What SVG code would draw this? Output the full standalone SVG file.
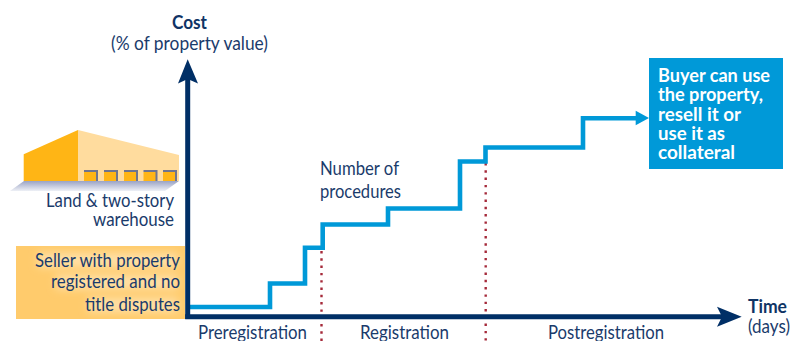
<svg xmlns="http://www.w3.org/2000/svg" width="791" height="341" viewBox="0 0 791 341">
<style>
text{font-family:Lato,"Noto Sans","Liberation Sans",sans-serif;font-size:19px;fill:#1a3b6b}
.b{font-weight:700;fill:#0f3465}
.w{font-weight:700;fill:#fff}
.axis{fill:none;stroke:#002f66;stroke-width:5}
.step{fill:none;stroke:#0099d8;stroke-width:4.6}
.dot{fill:none;stroke:#a52a3a;stroke-width:2.4;stroke-dasharray:2.4 4.9}
</style>
<defs>
<linearGradient id="sh" x1="0" y1="0" x2="0" y2="1"><stop offset="0" stop-color="#9aa3c4"/><stop offset="1" stop-color="#eef0f6"/></linearGradient>
<filter id="bl" x="-20%" y="-40%" width="140%" height="180%"><feGaussianBlur stdDeviation="4"/></filter>
<clipPath id="sc"><rect x="16" y="246" width="169" height="73"/></clipPath>
</defs>
<g id="connectors">
<path class="dot" d="M321.5 251V341M485.7 163V341"/>
<path class="step" d="M190 307H270V283.5H305V247.7H322.7V224.5H388V208.5H460V161.5H485.500V147.500H583V118.300H637"/>
<polygon points="635.7,110.7 649,118 635.7,125.3" fill="#0099d8"/>
<path class="axis" d="M187.7 79V319"/>
<path class="axis" d="M185.2 316.7H725"/>
<polygon points="187.7,59.3 198,83.500 187.7,79 178,83.500" fill="#002f66"/>
<polygon points="741.7,316.7 717,306.7 722,316.7 717,326.7" fill="#002f66"/>
</g>
<g id="warehouse">
<polygon points="24,181 179,181 165,191 10,191" fill="url(#sh)"/>
<polygon points="23.7,154.3 78,130 78,181 23.7,181" fill="#ffb515"/>
<polygon points="78,130 179,155 179,181 78,181" fill="#ffdc9e"/>
<g fill="#ffb515"><rect x="84" y="172" width="13" height="9"/><rect x="104" y="172" width="13" height="9"/><rect x="124" y="172" width="13" height="9"/><rect x="143.500" y="172" width="13" height="9"/><rect x="163" y="172" width="13" height="9"/></g>
<path d="M84 171H97V181M104 171H117V181M124 171H137V181M143.500 171H156.500V181M163 171H176V181" fill="none" stroke="#6f7590" stroke-width="2"/>
<text x="174" y="206.700" text-anchor="end" textLength="128" lengthAdjust="spacingAndGlyphs">Land &amp; two-story</text>
<text x="174" y="225.700" text-anchor="end" textLength="81" lengthAdjust="spacingAndGlyphs">warehouse</text>
</g>
<g id="seller">
<rect x="16" y="246" width="169" height="73" fill="#ffcb6c"/>
<g clip-path="url(#sc)"><g filter="url(#bl)" fill="#ffe0a6"><rect x="38" y="253" width="140" height="14"/><rect x="56" y="275" width="122" height="14"/><rect x="88" y="298" width="90" height="14"/></g></g>
<text x="180" y="266.700" text-anchor="end" textLength="145" lengthAdjust="spacingAndGlyphs">Seller with property</text>
<text x="180" y="288" text-anchor="end" textLength="129" lengthAdjust="spacingAndGlyphs">registered and no</text>
<text x="180" y="311" text-anchor="end" textLength="95" lengthAdjust="spacingAndGlyphs">title disputes</text>
</g>
<g id="buyer">
<rect x="649" y="58" width="134" height="111" fill="#0099d8"/>
<text class="w" x="658" y="81.700" textLength="112" lengthAdjust="spacingAndGlyphs">Buyer can use</text>
<text class="w" x="658" y="101" textLength="105" lengthAdjust="spacingAndGlyphs">the property,</text>
<text class="w" x="658" y="121" textLength="83" lengthAdjust="spacingAndGlyphs">resell it or</text>
<text class="w" x="658" y="140" textLength="67" lengthAdjust="spacingAndGlyphs">use it as</text>
<text class="w" x="658" y="159" textLength="77" lengthAdjust="spacingAndGlyphs">collateral</text>
</g>
<g id="labels">
<text class="b" x="172" y="28.500" textLength="35" lengthAdjust="spacingAndGlyphs">Cost</text>
<text x="111" y="50" textLength="157" lengthAdjust="spacingAndGlyphs">(% of property value)</text>
<text x="320" y="175" textLength="79" lengthAdjust="spacingAndGlyphs">Number of</text>
<text x="320" y="198" textLength="81" lengthAdjust="spacingAndGlyphs">procedures</text>
<text class="b" x="748" y="312.700" textLength="39" lengthAdjust="spacingAndGlyphs">Time</text>
<text x="748" y="333" textLength="42" lengthAdjust="spacingAndGlyphs">(days)</text>
<text x="198" y="338.500" textLength="109" lengthAdjust="spacingAndGlyphs">Preregistration</text>
<text x="360" y="338.500" textLength="89" lengthAdjust="spacingAndGlyphs">Registration</text>
<text x="548" y="338.500" textLength="116" lengthAdjust="spacingAndGlyphs">Postregistration</text>
</g>
</svg>
